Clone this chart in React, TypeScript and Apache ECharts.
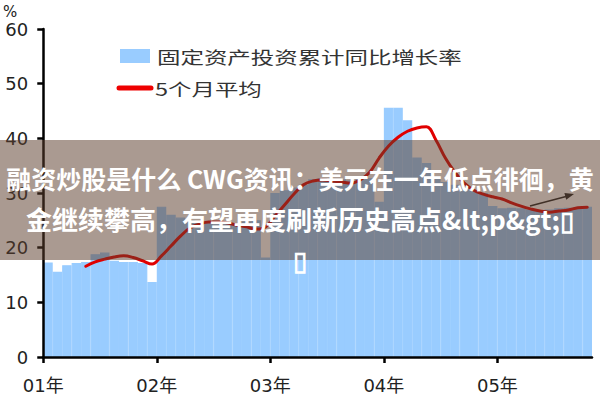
import React, { useEffect, useRef } from 'react';
import * as echarts from 'echarts';

// ---- data ----
const years = ['01', '02', '03', '04', '05'];
const monthsPerYear = [12, 12, 12, 12, 10];
const yearTickLabels = ['01年', '02年', '03年', '04年', '05年'];
const yTicks = [0, 10, 20, 30, 40, 50, 60];

const months: string[] = [];
years.forEach((y, k) => {
  for (let m = 1; m <= monthsPerYear[k]; m++) months.push(`20${y}-${String(m).padStart(2, '0')}`);
});

// 固定资产投资累计同比增长率 (%)
const fai2001 = [17.3, 15.6, 16.8, 17.2, 17.4, 18.8, 19.1, 17.6, 17.4, 17.4, 17.2, 13.7];
const fai2002 = [27.5, 26.0, 25.5, 25.0, 24.5, 24.5, 24.3, 24.5, 24.5, 24.8, 25.0, 18.2];
const fai2003 = [30.0, 30.5, 31.0, 31.5, 32.5, 32.7, 32.5, 32.5, 32.3, 32.5, 32.7, 28.4];
const fai2004 = [45.6, 45.6, 43.3, 36.5, 35.5, 33.0, 32.0, 31.5, 31.0, 30.5, 30.0, 27.6];
const fai2005 = [27.2, 27.3, 27.2, 27.0, 26.8, 27.0, 27.2, 27.3, 27.4, 27.5];

// 5个月平均 (%)
const avg2001 = [null, null, null, null, 16.6, 17.4, 17.9, 18.3, 18.5, 18.2, 17.6, 17.0];
const avg2002 = [18.5, 20.3, 22.1, 23.6, 24.3, 24.7, 24.7, 24.5, 24.1, 23.8, 23.4, 23.8];
const avg2003 = [25.8, 27.8, 29.8, 31.5, 32.2, 32.4, 32.2, 32.0, 31.8, 32.4, 33.8, 36.4];
const avg2004 = [38.6, 40.2, 41.3, 41.9, 42.1, 39.7, 36.4, 33.8, 31.8, 30.5, 29.8, 29.3];
const avg2005 = [28.9, 28.2, 27.6, 27.1, 26.7, 26.5, 26.7, 26.9, 27.3, 27.4];

const faiGrowth = [...fai2001, ...fai2002, ...fai2003, ...fai2004, ...fai2005];
const avg5 = [...avg2001, ...avg2002, ...avg2003, ...avg2004, ...avg2005];
const yearTickValues = yearTickLabels.map((_, k) => k * 12);

const barName = '固定资产投资累计同比增长率';
const lineName = '5个月平均';
const bannerLines = [
  '融资炒股是什么 CWG资讯：美元在一年低点徘徊，黄',
  '金继续攀高，有望再度刷新历史高点&lt;p&gt;▯',
  '▯',
];
const bannerSizes = [25, 26, 26];

const axisFont = "'DejaVu Sans', 'Noto Sans CJK SC', sans-serif";
const cjkFont = "'Noto Sans CJK SC', sans-serif";

export default function App() {
  const ref = useRef<HTMLDivElement>(null);
  useEffect(() => {
    if (!ref.current) return;
    const chart = echarts.init(ref.current, null, { renderer: 'svg' });
    chart.setOption({
      animation: false,
      backgroundColor: '#ffffff',
      grid: { left: 43, right: 8, top: 29, bottom: 43, containLabel: false },
      xAxis: [
        { type: 'category', data: months, show: false, boundaryGap: true },
        {
          type: 'value',
          min: 0,
          max: months.length,
          position: 'bottom',
          z: 5,
          axisLine: { show: true, onZero: false, lineStyle: { color: '#000', width: 2.5 } },
          axisTick: {
            show: true,
            inside: false,
            length: 6,
            customValues: yearTickValues,
            lineStyle: { color: '#000', width: 2.5 },
          },
          axisLabel: {
            customValues: yearTickValues,
            formatter: (v: number) => yearTickLabels[Math.round(v / 12)] ?? '',
            margin: 19,
            fontSize: 18,
            color: '#222',
            fontFamily: axisFont,
          },
          splitLine: { show: false },
        },
      ],
      yAxis: {
        type: 'value',
        min: yTicks[0],
        max: yTicks[yTicks.length - 1],
        interval: 10,
        z: 5,
        name: '%',
        nameGap: 10,
        nameTextStyle: { align: 'right', padding: [0, 26, 0, 0], fontSize: 15, color: '#222', fontFamily: axisFont },
        axisLine: { show: true, onZero: false, lineStyle: { color: '#000', width: 2.5 } },
        axisTick: { show: true, inside: false, length: 6, lineStyle: { color: '#000', width: 2.5 } },
        axisLabel: { margin: 15, fontSize: 18, color: '#222', fontFamily: axisFont },
        splitLine: { show: false },
      },
      series: [
        {
          type: 'bar',
          name: barName,
          xAxisIndex: 0,
          data: faiGrowth,
          barWidth: '100%',
          itemStyle: { color: '#99ccff', borderColor: '#99ccff', borderWidth: 1.2 },
          z: 2,
        },
        {
          type: 'line',
          name: lineName,
          xAxisIndex: 0,
          data: avg5,
          smooth: 0.4,
          symbol: 'none',
          showSymbol: false,
          lineStyle: { color: '#e00000', width: 3, cap: 'round' },
          z: 3,
        },
      ],
      graphic: [
        // legend
        { type: 'rect', z: 10, shape: { x: 120, y: 49, width: 30, height: 14 }, style: { fill: '#99ccff' } },
        {
          type: 'text', z: 10, x: 157, y: 57, scaleX: 1.38,
          style: { text: barName, fill: '#333', fontSize: 17, fontFamily: cjkFont, align: 'left', verticalAlign: 'middle', textAlign: 'left', textVerticalAlign: 'middle' },
        },
        { type: 'line', z: 10, shape: { x1: 119, y1: 88, x2: 151, y2: 88 }, style: { stroke: '#ee0000', lineWidth: 5, lineCap: 'round' } },
        {
          type: 'text', z: 10, x: 155, y: 89, scaleX: 1.38,
          style: { text: lineName, fill: '#333', fontSize: 17, fontFamily: cjkFont, align: 'left', verticalAlign: 'middle', textAlign: 'left', textVerticalAlign: 'middle' },
        },
        // arrow annotation
        { type: 'line', z: 50, shape: { x1: 530, y1: 206, x2: 566, y2: 196.5 }, style: { stroke: '#222', lineWidth: 1.5 } },
        { type: 'polygon', z: 50, shape: { points: [[574, 194], [564.4, 193.0], [566.2, 199.8]] }, style: { fill: '#222' } },
        // banner overlay
        { type: 'rect', z: 100, shape: { x: 0, y: 140, width: 600, height: 120 }, style: { fill: 'rgba(92,62,44,0.52)' } },
        ...bannerLines.map((t, i) => ({
          type: 'text', z: 101, x: 300, y: 178 + i * 40,
          style: {
            text: t, fill: '#ffffff', fontSize: bannerSizes[i], fontWeight: 'bold', fontFamily: cjkFont,
            align: 'center', verticalAlign: 'middle', textAlign: 'center', textVerticalAlign: 'middle',
          },
        })),
      ],
    });
    return () => chart.dispose();
  }, []);
  return <div ref={ref} style={{ position: 'fixed', left: 0, top: 0, width: 600, height: 400 }} />;
}
